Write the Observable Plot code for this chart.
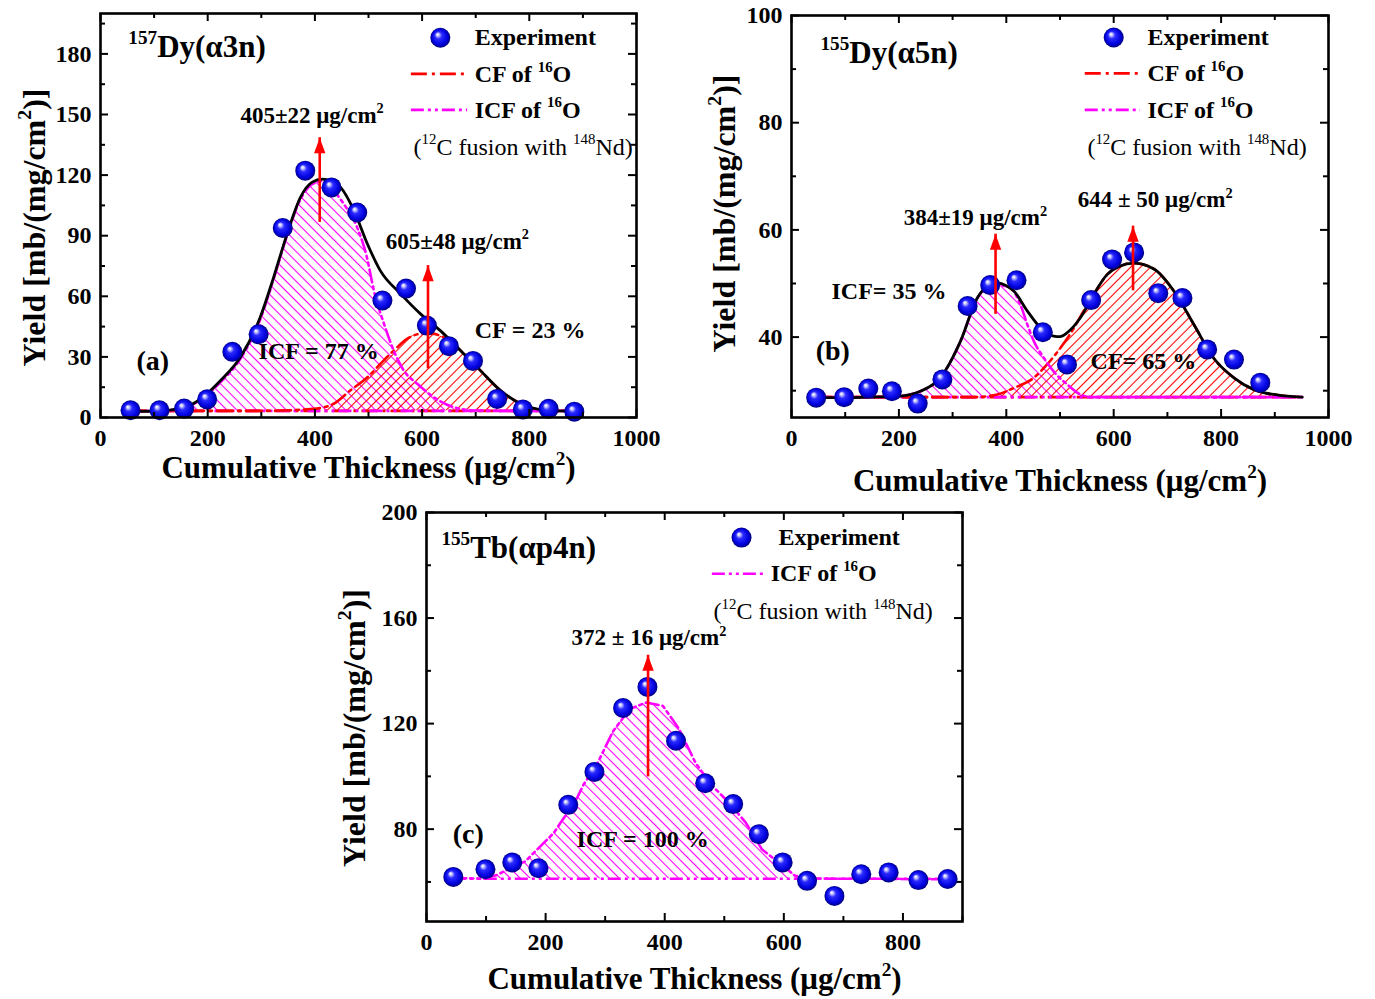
<!DOCTYPE html>
<html><head><meta charset="utf-8">
<script src="https://cdn.jsdelivr.net/npm/d3@7"></script>
<script src="https://cdn.jsdelivr.net/npm/@observablehq/plot@0.6"></script>
<style>
body{margin:0;background:#fff;}
#wrap{position:relative;width:1375px;height:999px;background:#fff;overflow:hidden;}
#wrap > svg{position:absolute;}
</style></head><body><div id="wrap"></div>
<script>
// ---------- Panel (a): 157Dy(α3n) ----------
const thickA = [56,110,156,199,246,295,340,382,431,479,526,570,609,650,695,740,788,836,884];
const yieldA = [3.6,3.6,4.4,9.0,32.5,41.2,93.8,122.2,113.9,101.5,57.9,63.8,45.5,35.3,28.0,9.2,4.0,4.3,2.9];
const fitThickA = [55,100,150,187,224,261,298,323,348,373,395,414,430,448,473,498,522,560,597,634,672,709,746,784,833,883];
const fitYieldA = [3,3.1,4.5,9.2,18.3,29.8,49.6,69.4,90.8,109,116.5,118,117,113.9,102.4,85.9,72.7,61.2,51.3,43,33.1,23.2,13.4,6.8,3.5,3];
const icfThickA = [55,100,150,187,224,261,298,323,348,373,395,414,429,454,479,497,510,529,547,566,591,622,659,697,750,883];
const icfYieldA = [3,3.1,4.3,8.8,17.5,29,48.5,68.5,90,108,115.5,117,113.9,105.7,94,79.3,62.8,46.3,33.1,23.2,16.7,10,5.1,3.5,3.3,3.3];
const cfThickA = [55,150,300,398,435,466,498,522,547,572,597,618,634,672,709,746,784,833,883];
const cfYieldA = [3.3,3.3,3.3,4.3,6.8,13.4,19.9,26.5,33.1,38.9,41.4,41.5,40.5,33.1,23.2,13.4,6.8,3.5,3.3];
const baseA = 3.3;
const peaksA = [{x:409, y1:101.5, y2:138.5}, {x:611, y1:29, y2:75.2}];

// ---------- Panel (b): 155Dy(α5n) ----------
const thickB = [46,98,143,187,235,281,328,370,419,468,513,558,597,638,683,728,774,824,873];
const yieldB = [28.7,28.8,30.4,29.9,27.6,32.1,45.8,49.7,50.6,40.9,34.9,46.9,54.5,55.8,48.2,47.3,37.7,35.8,31.5];
const fitThickB = [46,100,150,203,240,277,315,346,365,383,400,414,439,464,488,500,513,538,563,588,610,638,675,712,749,786,824,861,904,951];
const fitYieldB = [28.7,28.7,28.8,29.0,29.9,32.4,39.3,47.3,49.5,50.1,49.6,48.6,44.9,41.7,40.2,40.1,40.8,43.6,48,51.7,53.2,53.8,52.7,48.6,42.4,36.1,32.4,30.2,29.2,28.8];
const icfThickB = [46,100,150,203,240,277,315,346,365,383,395,408,426,439,451,470,488,513,538,560,600,951];
const icfYieldB = [28.7,28.7,28.8,29.0,29.9,32.4,39.3,47.3,49.3,49.8,49.6,49.2,46.1,42.4,39.3,36.1,33.6,31.2,29.3,28.8,28.8,28.8];
const cfThickB = [46,200,340,383,414,451,476,501,526,544,563,588,610,638,675,712,749,786,824,861,904,951];
const cfYieldB = [28.8,28.8,28.8,29.3,30.5,32.4,34.9,38,41.7,44.9,48,51.7,53.2,53.8,52.7,48.6,42.4,36.1,32.4,30.2,29.2,28.8];
const baseB = 28.8;
const peaksB = [{x:380, y1:46.1, y2:59.2}, {x:636, y1:50.5, y2:60.7}];

// ---------- Panel (c): 155Tb(αp4n) ----------
const thickC = [45,99,144,188,238,282,330,371,419,468,515,558,598,639,685,730,776,826,875];
const yieldC = [61.9,64.8,67.4,65.2,89.2,101.7,125.9,133.9,113.5,97.4,89.5,78.1,67.4,60.4,54.7,62.9,63.6,60.7,61.1];
const icfThickC = [45,96,119,147,166,180,197,214,225,239,253,264,285,313,341,369,397,424,452,480,508,536,563,591,619,650,700,776,826,875];
const icfYieldC = [61.5,61.2,62.7,65.9,67.8,71,74.8,78.6,82.4,86.9,91.9,97,104,117,125.5,128,126.7,118,105,96.4,90,82.5,72.4,67.4,62.3,61.3,61.2,61.2,61,61];
const baseC = 61.2;
const peaksC = [{x:372, y1:103.6, y2:145.9}];

// ---------- tick values ----------
const xMajor = [0,200,400,600,800,1000];
const xMinor = [100,300,500,700,900];
const xMajorC = [0,200,400,600,800];
const yMajorA = [0,30,60,90,120,150,180], yMinorA = [15,45,75,105,135,165,195];
const yMajorB = [40,60,80,100], yMinorB = [30,50,70,90];
const yMajorC = [80,120,160,200], yMinorC = [60,100,140,180];

const FONT = "'Liberation Serif','Times New Roman',serif";
const RED = "#ff0000", MAG = "#ff00ff";
const CF_DASH = "16,5,3,5", ICF_DASH = "13,4,3,4,3,4";
const XLABEL = "Cumulative Thickness (μg/cm^{2})";
const YLABEL = "Yield [mb/(mg/cm^{2})]";

const wrap = document.getElementById("wrap");
// defs: sphere gradient and hatch patterns
const defsSvg = d3.select(wrap).append("svg").attr("width",0).attr("height",0);
const defs = defsSvg.append("defs");
const grad = defs.append("radialGradient").attr("id","ball").attr("cx","50%").attr("cy","50%").attr("r","50%").attr("fx","35%").attr("fy","32%");
[[0,"#ffffff"],[0.13,"#d0d0ff"],[0.36,"#2a2aff"],[0.78,"#0000dd"],[1,"#00007a"]].forEach(([o,c])=>grad.append("stop").attr("offset",o).attr("stop-color",c));
function hatch(id, color, angle){
  const p = defs.append("pattern").attr("id",id).attr("patternUnits","userSpaceOnUse")
    .attr("width",7).attr("height",7).attr("patternTransform",`rotate(${angle})`);
  p.append("line").attr("x1",3.5).attr("y1",-1).attr("x2",3.5).attr("y2",8).attr("stroke",color).attr("stroke-width",1.1);
}
hatch("hatchM", MAG, -45);
hatch("hatchR", RED, 45);

const arrowHead = {draw(ctx, size){ const r = Math.sqrt(size/Math.PI); ctx.moveTo(0,0); ctx.lineTo(-0.95*r,2.6*r); ctx.lineTo(0.95*r,2.6*r); ctx.closePath(); }};

function curveMarks(X, Y, opts){ return Plot.line(X, {x: X, y: Y, curve: "monotone-x", ...opts}); }
function arrows(peaks){
  return [
    Plot.ruleX(peaks, {x:"x", y1:"y1", y2:"y2", stroke: RED, strokeWidth: 2.6, insetTop: 10}),
    Plot.dot(peaks, {x:"x", y:"y2", symbol: arrowHead, r: 6, fill: RED})
  ];
}
function texts(arr, weight){
  return Plot.text(arr, {x:"x", y:"y", text:"text", fontSize: d=>d.size, textAnchor:"start", lineAnchor:"middle", fontWeight: weight});
}
function legendMarks(ball, lines){
  return [
    Plot.dot([ball], {x:"x", y:"y", r:10, fill:"url(#ball)"}),
    ...lines.map(l => Plot.ruleY([l.y], {x1: l.x1, x2: l.x2, stroke: l.stroke, strokeWidth: 2.6, strokeDasharray: l.dash}))
  ];
}

function makePanel(p){
  const W = p.width - p.ml - p.mr, H = p.height - p.mt - p.mb;
  const tk = (vals, len, side) => {
    const o = {strokeWidth: 2};
    if (side === "bottom") o.insetTop = H - len;
    if (side === "top") o.insetBottom = H - len;
    if (side === "left") o.insetRight = W - len;
    if (side === "right") o.insetLeft = W - len;
    return (side === "bottom" || side === "top") ? Plot.tickX(vals, o) : Plot.tickY(vals, o);
  };
  const ticks = [];
  for (const s of ["bottom","top"]) { ticks.push(tk(p.xMaj, 8, s), tk(p.xMin, 5, s)); }
  for (const s of ["left","right"]) { ticks.push(tk(p.yMaj, 8, s), tk(p.yMin, 5, s)); }
  const svg = Plot.plot({
    width: p.width, height: p.height,
    marginLeft: p.ml, marginRight: p.mr, marginTop: p.mt, marginBottom: p.mb,
    x: {domain: p.xDomain}, y: {domain: p.yDomain},
    style: {fontFamily: FONT, fontWeight: "bold", fontSize: "24px", color: "black", background: "transparent", overflow: "visible"},
    marks: [
      ...p.marks,
      ...ticks,
      Plot.frame({strokeWidth: 2.6}),
      Plot.axisX(p.xMaj, {anchor: "bottom", tickSize: 0, tickPadding: 11, tickFormat: d => String(d), label: null}),
      Plot.axisY(p.yMaj, {anchor: "left", tickSize: 0, tickPadding: 9, tickFormat: d => String(d), label: null}),
      Plot.text([XLABEL], {frameAnchor: "bottom", textAnchor: "middle", lineAnchor: "middle", dy: p.xlDy, fontSize: 31}),
      Plot.text([YLABEL], {frameAnchor: "left", textAnchor: "middle", lineAnchor: "middle", dx: p.ylDx, dy: p.ylDy, rotate: -90, fontSize: 32})
    ]
  });
  svg.style.left = p.left + "px";
  svg.style.top = p.top + "px";
  wrap.appendChild(svg);
  supify(svg);
  return svg;
}

function supify(root){
  const NS = "http://www.w3.org/2000/svg";
  root.querySelectorAll("text").forEach(t => {
    const tsp = t.querySelectorAll("tspan");
    const nodes = tsp.length ? [...tsp] : [t];
    nodes.forEach(n => {
      const s = n.textContent;
      if (!s.includes("^{")) return;
      const fs = parseFloat(getComputedStyle(n).fontSize);
      const sh = 0.42 * fs;
      const parts = s.split(/(\^\{[^}]*\})/).filter(q => q.length);
      n.textContent = "";
      let raised = false;
      parts.forEach(q => {
        const sp = document.createElementNS(NS, "tspan");
        if (q.startsWith("^{")) {
          sp.textContent = q.slice(2, -1);
          sp.setAttribute("font-size", (0.62 * fs).toFixed(1));
          if (!raised) { sp.setAttribute("dy", (-sh).toFixed(1)); raised = true; }
        } else {
          sp.textContent = q;
          if (raised) { sp.setAttribute("dy", sh.toFixed(1)); raised = false; }
        }
        n.appendChild(sp);
      });
    });
  });
}

// ---------- build panel (a) ----------
makePanel({
  left: 0, top: 0, width: 680, height: 495, ml: 100, mr: 44, mt: 13, mb: 78,
  xDomain: [0, 1000], yDomain: [0, 200],
  xMaj: xMajor, xMin: xMinor, yMaj: yMajorA, yMin: yMinorA,
  xlDy: 51, ylDx: -66, ylDy: 12,
  marks: [
    Plot.areaY(icfThickA, {x: icfThickA, y1: baseA, y2: icfYieldA, fill: "url(#hatchM)", curve: "monotone-x"}),
    Plot.areaY(cfThickA, {x: cfThickA, y1: baseA, y2: cfYieldA, fill: "url(#hatchR)", curve: "monotone-x"}),
    Plot.ruleY([baseA], {x1: fitThickA[0], x2: fitThickA[fitThickA.length-1], stroke: RED, strokeWidth: 2.6, strokeDasharray: CF_DASH}),
    Plot.ruleY([baseA], {x1: fitThickA[0], x2: fitThickA[fitThickA.length-1], stroke: MAG, strokeWidth: 2.6, strokeDasharray: ICF_DASH, strokeDashoffset: 8}),
    curveMarks(cfThickA, cfYieldA, {stroke: RED, strokeWidth: 2.6, strokeDasharray: CF_DASH}),
    curveMarks(icfThickA, icfYieldA, {stroke: MAG, strokeWidth: 2.6, strokeDasharray: ICF_DASH}),
    curveMarks(fitThickA, fitYieldA, {stroke: "black", strokeWidth: 2.8}),
    Plot.dot(thickA, {x: thickA, y: yieldA, r: 10, fill: "url(#ball)"}),
    ...arrows(peaksA),
    ...legendMarks({x: 634, y: 188}, [
      {x1: 580, x2: 685, y: 170.1, stroke: RED, dash: CF_DASH},
      {x1: 580, x2: 685, y: 152.3, stroke: MAG, dash: ICF_DASH}
    ]),
    texts([
      {x: 52, y: 183.5, text: "^{157}Dy(α3n)", size: 31},
      {x: 698, y: 188, text: "Experiment", size: 24},
      {x: 698, y: 170, text: "CF of ^{16}O", size: 24},
      {x: 698, y: 152.3, text: "ICF of ^{16}O", size: 24},
      {x: 261, y: 149.4, text: "405±22 μg/cm^{2}", size: 23},
      {x: 532, y: 87, text: "605±48 μg/cm^{2}", size: 23},
      {x: 698, y: 43, text: "CF = 23 %", size: 24},
      {x: 295, y: 33, text: "ICF = 77 %", size: 24},
      {x: 67, y: 28.2, text: "(a)", size: 28}
    ], "bold"),
    texts([{x: 584, y: 134, text: "(^{12}C fusion with ^{148}Nd)", size: 24}], "normal")
  ]
});

// ---------- build panel (b) ----------
makePanel({
  left: 690, top: 0, width: 685, height: 500, ml: 101, mr: 47, mt: 15, mb: 83,
  xDomain: [0, 1000], yDomain: [25, 100],
  xMaj: xMajor, xMin: xMinor, yMaj: yMajorB, yMin: yMinorB,
  xlDy: 64, ylDx: -67, ylDy: -3,
  marks: [
    Plot.areaY(icfThickB, {x: icfThickB, y1: baseB, y2: icfYieldB, fill: "url(#hatchM)", curve: "monotone-x"}),
    Plot.areaY(cfThickB, {x: cfThickB, y1: baseB, y2: cfYieldB, fill: "url(#hatchR)", curve: "monotone-x"}),
    Plot.ruleY([baseB], {x1: fitThickB[0], x2: fitThickB[fitThickB.length-1], stroke: RED, strokeWidth: 2.6, strokeDasharray: CF_DASH}),
    Plot.ruleY([baseB], {x1: fitThickB[0], x2: fitThickB[fitThickB.length-1], stroke: MAG, strokeWidth: 2.6, strokeDasharray: ICF_DASH, strokeDashoffset: 8}),
    curveMarks(cfThickB, cfYieldB, {stroke: RED, strokeWidth: 2.6, strokeDasharray: CF_DASH}),
    curveMarks(icfThickB, icfYieldB, {stroke: MAG, strokeWidth: 2.6, strokeDasharray: ICF_DASH}),
    curveMarks(fitThickB, fitYieldB, {stroke: "black", strokeWidth: 2.8}),
    Plot.dot(thickB, {x: thickB, y: yieldB, r: 10, fill: "url(#ball)"}),
    ...arrows(peaksB),
    ...legendMarks({x: 600, y: 95.9}, [
      {x1: 547, x2: 650, y: 89.2, stroke: RED, dash: CF_DASH},
      {x1: 547, x2: 650, y: 82.4, stroke: MAG, dash: ICF_DASH}
    ]),
    texts([
      {x: 54, y: 93, text: "^{155}Dy(α5n)", size: 31},
      {x: 663, y: 95.9, text: "Experiment", size: 24},
      {x: 663, y: 89.2, text: "CF of ^{16}O", size: 24},
      {x: 663, y: 82.4, text: "ICF of ^{16}O", size: 24},
      {x: 209, y: 62.2, text: "384±19 μg/cm^{2}", size: 23},
      {x: 533, y: 65.6, text: "644 ± 50 μg/cm^{2}", size: 23},
      {x: 74.5, y: 48.6, text: "ICF= 35 %", size: 24},
      {x: 557, y: 35.5, text: "CF= 65 %", size: 24},
      {x: 45, y: 37.4, text: "(b)", size: 28}
    ], "bold"),
    texts([{x: 551, y: 75.5, text: "(^{12}C fusion with ^{148}Nd)", size: 24}], "normal")
  ]
});

// ---------- build panel (c) ----------
makePanel({
  left: 330, top: 495, width: 650, height: 504, ml: 96, mr: 18, mt: 17, mb: 78,
  xDomain: [0, 900], yDomain: [45, 200],
  xMaj: xMajorC, xMin: xMinor, yMaj: yMajorC, yMin: yMinorC,
  xlDy: 58, ylDx: -72, ylDy: 11,
  marks: [
    Plot.areaY(icfThickC, {x: icfThickC, y1: baseC, y2: icfYieldC, fill: "url(#hatchM)", curve: "linear"}),
    Plot.ruleY([baseC], {x1: icfThickC[0], x2: icfThickC[icfThickC.length-1], stroke: MAG, strokeWidth: 2.6, strokeDasharray: ICF_DASH}),
    Plot.line(icfThickC, {x: icfThickC, y: icfYieldC, curve: "linear", stroke: MAG, strokeWidth: 2.6, strokeDasharray: ICF_DASH}),
    Plot.dot(thickC, {x: thickC, y: yieldC, r: 10, fill: "url(#ball)"}),
    ...arrows(peaksC),
    ...legendMarks({x: 529, y: 190.5}, [
      {x1: 480, x2: 571, y: 176.8, stroke: MAG, dash: ICF_DASH}
    ]),
    texts([
      {x: 25, y: 186.5, text: "^{155}Tb(αp4n)", size: 31},
      {x: 591, y: 190.5, text: "Experiment", size: 24},
      {x: 578, y: 176.8, text: "ICF of ^{16}O", size: 24},
      {x: 243.5, y: 152.4, text: "372 ± 16 μg/cm^{2}", size: 23},
      {x: 252, y: 76.2, text: "ICF = 100 %", size: 24},
      {x: 44, y: 78, text: "(c)", size: 28}
    ], "bold"),
    texts([{x: 482, y: 162.7, text: "(^{12}C fusion with ^{148}Nd)", size: 24}], "normal")
  ]
});
</script></body></html>
